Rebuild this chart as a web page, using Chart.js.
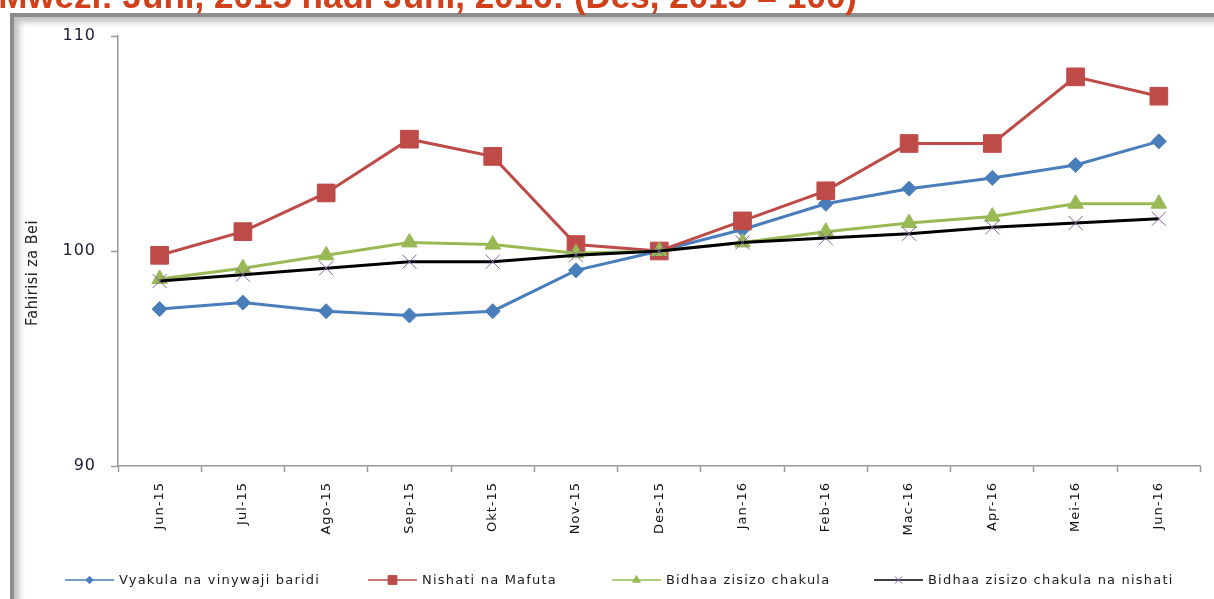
<!DOCTYPE html>
<html>
<head>
<meta charset="utf-8">
<script src="https://cdn.jsdelivr.net/npm/chart.js@4"></script>
<style>
  html, body { margin: 0; padding: 0; background: #fff; overflow: hidden; }
  #wrap { position: relative; width: 1214px; height: 599px; }
  #frame {
    position: absolute; left: 10px; top: 13px; width: 1400px; height: 800px;
    border-left: 4px solid #8c8c8c; border-top: 4px solid #8c8c8c;
    box-shadow: inset 5px 5px 6px rgba(0,0,0,0.25);
  }
  #cpiChart { position: absolute; left: 0; top: 0; }
</style>
</head>
<body>
<div id="wrap">
  <div id="frame"></div>
  <canvas id="cpiChart" width="1214" height="599"></canvas>
</div>
<script>
const months = ["Jun-15", "Jul-15", "Ago-15", "Sep-15", "Okt-15", "Nov-15", "Des-15",
  "Jan-16", "Feb-16", "Mac-16", "Apr-16", "Mei-16", "Jun-16"];

const vyakula = [97.3, 97.6, 97.2, 97.0, 97.2, 99.1, 100.0, 101.0, 102.2, 102.9, 103.4, 104.0, 105.1];
const nishati = [99.8, 100.9, 102.7, 105.2, 104.4, 100.3, 100.0, 101.4, 102.8, 105.0, 105.0, 108.1, 107.2];
const bidhaa = [98.7, 99.2, 99.8, 100.4, 100.3, 99.9, 100.0, 100.4, 100.9, 101.3, 101.6, 102.2, 102.2];
const bidhaaBilaNishati = [98.6, 98.9, 99.2, 99.5, 99.5, 99.8, 100.0, 100.4, 100.6, 100.8, 101.1, 101.3, 101.5];

const seriesNames = ["Vyakula na vinywaji baridi", "Nishati na Mafuta", "Bidhaa zisizo chakula", "Bidhaa zisizo chakula na nishati"];
const yTicks = [90, 100, 110];

const titleText = "Mwezi: Juni, 2015 hadi Juni, 2016: (Des, 2015 = 100)";
const yTitle = "Fahirisi za Bei";

const BLUE = "#4a7ebb", RED = "#be4b48", GREEN = "#98b954", PURPLE = "#8064a2";

// extra text: cut-off title, y title, Excel style legend
const extras = {
  id: "extras",
  beforeDraw(chart) {
    chart.ctx.letterSpacing = "1px";
  },
  afterDraw(chart) {
    const ctx = chart.ctx;
    ctx.save();
    ctx.letterSpacing = "0px";
    ctx.fillStyle = "#d0401a";
    ctx.font = 'bold 35px "Liberation Sans", Arial, sans-serif';
    ctx.textAlign = "right";
    ctx.textBaseline = "alphabetic";
    ctx.fillText(titleText, 857, 8);
    ctx.restore();

    ctx.save();
    ctx.translate(33, 273);
    ctx.rotate(-Math.PI / 2);
    ctx.letterSpacing = "0.5px";
    ctx.fillStyle = "#222";
    ctx.font = '16px "Liberation Sans Narrow", "DejaVu Sans Condensed", sans-serif';
    ctx.textAlign = "center";
    ctx.textBaseline = "middle";
    ctx.fillText(yTitle, 0, 0);
    ctx.restore();

    // legend
    const items = [
      { x: 65, ds: 0 }, { x: 368, ds: 1 }, { x: 612, ds: 2 }, { x: 874, ds: 3 }
    ];
    const ly = 580;
    items.forEach(it => {
      const ds = chart.data.datasets[it.ds];
      ctx.save();
      ctx.strokeStyle = ds.borderColor;
      ctx.lineWidth = 1.5;
      ctx.beginPath();
      ctx.moveTo(it.x, ly);
      ctx.lineTo(it.x + 49, ly);
      ctx.stroke();
      ctx.fillStyle = ds.pointBackgroundColor;
      ctx.strokeStyle = ds.pointBorderColor;
      ctx.lineWidth = ds.pointBorderWidth;
      Chart.helpers.drawPoint(ctx, {
        pointStyle: ds.pointStyle,
        radius: ds.pointRadius * 0.5,
        borderWidth: ds.pointBorderWidth
      }, it.x + 24.5, ly);
      ctx.letterSpacing = "1.2px";
      ctx.fillStyle = "#1a1a1a";
      ctx.font = '13px "DejaVu Sans", sans-serif';
      ctx.textAlign = "left";
      ctx.textBaseline = "middle";
      ctx.fillText(seriesNames[it.ds], it.x + 54, ly + 1);
      ctx.restore();
    });
  }
};

const ctx = document.getElementById("cpiChart").getContext("2d");
new Chart(ctx, {
  type: "line",
  data: {
    labels: months,
    datasets: [
      {
        label: seriesNames[0], data: vyakula, order: 4,
        borderColor: BLUE, backgroundColor: BLUE, borderWidth: 3,
        pointStyle: "rectRot", pointRadius: 7.5, pointBackgroundColor: BLUE,
        pointBorderColor: BLUE, pointBorderWidth: 1
      },
      {
        label: seriesNames[1], data: nishati, order: 3,
        borderColor: RED, backgroundColor: RED, borderWidth: 3,
        pointStyle: "rect", pointRadius: 12.5, pointBackgroundColor: RED,
        pointBorderColor: RED, pointBorderWidth: 1
      },
      {
        label: seriesNames[2], data: bidhaa, order: 2,
        borderColor: GREEN, backgroundColor: GREEN, borderWidth: 3,
        pointStyle: "triangle", pointRadius: 9, pointBackgroundColor: GREEN,
        pointBorderColor: GREEN, pointBorderWidth: 1
      },
      {
        label: seriesNames[3], data: bidhaaBilaNishati, order: 1,
        borderColor: "#000", backgroundColor: PURPLE, borderWidth: 3,
        pointStyle: "crossRot", pointRadius: 10, pointBackgroundColor: PURPLE,
        pointBorderColor: PURPLE, pointBorderWidth: 1
      }
    ]
  },
  options: {
    responsive: false,
    animation: false,
    layout: { padding: { left: 18, top: 36, right: 11, bottom: 0 } },
    plugins: {
      legend: { display: false },
      tooltip: { enabled: false }
    },
    elements: { line: { tension: 0 } },
    scales: {
      x: {
        offset: true,
        afterFit: (scale) => { scale.height = 133; },
        grid: { offset: true, drawOnChartArea: false, tickLength: 6, color: "#999", tickWidth: 1.5 },
        border: { color: "#999", width: 1.5 },
        ticks: {
          autoSkip: false, maxRotation: 90, minRotation: 90, padding: 10,
          color: "#111", font: { family: "DejaVu Sans", size: 13 }
        }
      },
      y: {
        min: 90, max: 110,
        afterFit: (scale) => { scale.width = 100; },
        afterBuildTicks: (scale) => { scale.ticks = yTicks.map(v => ({ value: v })); },
        grid: { drawOnChartArea: false, tickLength: 7, color: "#999", tickWidth: 1.5 },
        border: { color: "#999", width: 1.5 },
        ticks: {
          padding: 15, color: "#1b1b3a",
          font: { family: "DejaVu Sans", size: 16 }
        }
      }
    }
  },
  plugins: [extras]
});
</script>
</body>
</html>
